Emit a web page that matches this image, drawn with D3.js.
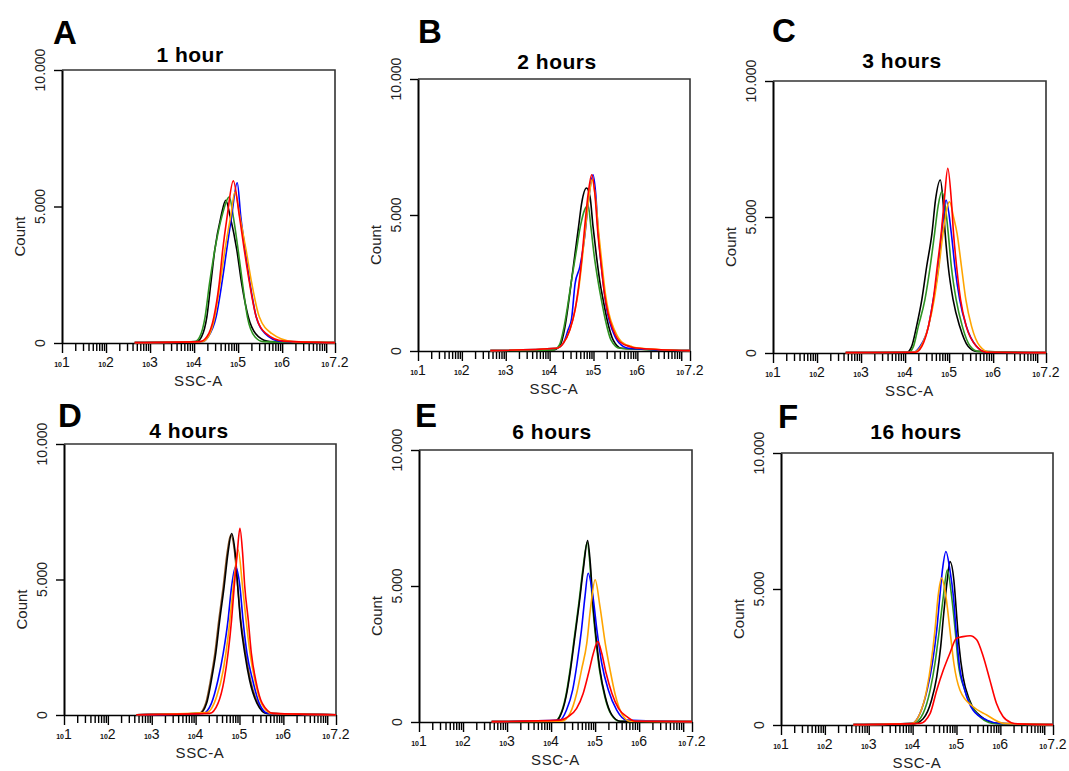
<!DOCTYPE html>
<html>
<head>
<meta charset="utf-8">
<script src="https://cdn.jsdelivr.net/npm/d3@7"></script>
<style>
  body { margin: 0; background: #fff; }
  svg { display: block; font-family: "Liberation Sans", Arial, sans-serif; }
</style>
</head>
<body>
<svg id="chart" width="1069" height="771"></svg>
<script>
// ---- data: [log10(SSC-A), count] ----
var h1_black  = [[4.06,50],[4.17,230],[4.29,960],[4.38,2180],[4.47,3410],[4.61,4630],[4.72,5230],[4.82,4630],[4.97,3410],[5.08,2180],[5.23,960],[5.46,230],[5.72,50]];
var h1_green  = [[4.02,50],[4.13,230],[4.25,960],[4.35,2180],[4.47,3410],[4.63,4630],[4.80,5350],[4.89,4630],[5.00,3410],[5.10,2180],[5.21,960],[5.38,230],[5.57,50]];
var h1_blue   = [[4.17,50],[4.32,230],[4.50,960],[4.63,2180],[4.74,3410],[4.85,4630],[4.98,5870],[5.06,4630],[5.16,3410],[5.27,2180],[5.41,960],[5.61,350],[5.95,70]];
var h1_orange = [[4.17,50],[4.32,230],[4.47,960],[4.59,2180],[4.70,3410],[4.83,4630],[4.93,5540],[5.04,4630],[5.18,3410],[5.31,2180],[5.48,960],[5.76,350],[6.25,50]];
var h1_red    = [[4.13,50],[4.29,230],[4.45,960],[4.57,2180],[4.65,3410],[4.75,4630],[4.89,5940],[5.03,4630],[5.14,3410],[5.26,2180],[5.41,960],[5.63,350],[6.03,70]];

var h2_black  = [[4.08,40],[4.24,215],[4.35,890],[4.43,1750],[4.50,2610],[4.58,3590],[4.66,4570],[4.73,5430],[4.84,5990],[4.92,5680],[4.99,4570],[5.07,3460],[5.14,2610],[5.22,1880],[5.31,1150],[5.45,400],[5.64,100]];
var h2_green  = [[4.08,40],[4.22,215],[4.33,890],[4.42,1750],[4.50,2610],[4.60,3590],[4.70,4570],[4.80,5200],[4.88,5350],[4.94,4570],[5.02,3460],[5.10,2610],[5.18,1880],[5.27,1150],[5.40,400],[5.60,100]];
var h2_blue   = [[4.16,100],[4.31,280],[4.42,770],[4.50,1180],[4.58,2470],[4.69,3100],[4.80,4210],[4.88,5430],[4.99,6480],[5.05,5800],[5.11,4330],[5.18,3100],[5.25,2120],[5.32,1390],[5.43,770],[5.58,300],[5.80,100]];
var h2_orange = [[4.16,100],[4.31,280],[4.46,770],[4.58,1510],[4.67,2360],[4.74,3340],[4.82,4570],[4.90,5700],[4.97,6300],[5.04,5700],[5.12,4330],[5.20,3100],[5.27,2120],[5.35,1390],[5.48,770],[5.64,340],[5.88,160],[6.10,100]];
var h2_red    = [[4.16,100],[4.31,280],[4.46,770],[4.58,1510],[4.66,2360],[4.73,3340],[4.80,4570],[4.88,5800],[4.96,6480],[5.03,5800],[5.10,4330],[5.18,3100],[5.25,2120],[5.33,1390],[5.45,770],[5.60,340],[5.83,160],[6.05,100]];

var h3_black  = [[4.04,25],[4.15,245],[4.26,980],[4.38,1960],[4.49,3180],[4.61,4400],[4.69,5620],[4.80,6360],[4.86,5620],[4.91,4400],[4.98,3180],[5.09,1960],[5.24,980],[5.43,245],[5.62,60]];
var h3_green  = [[4.08,25],[4.19,245],[4.30,980],[4.45,1960],[4.57,3180],[4.67,4400],[4.75,5400],[4.83,5930],[4.92,5300],[4.98,4400],[5.05,3180],[5.16,1960],[5.30,980],[5.48,245],[5.66,60]];
var h3_blue   = [[4.19,30],[4.34,245],[4.53,980],[4.64,1960],[4.76,3180],[4.83,4400],[4.93,5620],[5.05,4400],[5.13,3180],[5.24,1960],[5.39,980],[5.62,245],[5.85,30]];
var h3_orange = [[4.20,30],[4.36,245],[4.53,980],[4.66,1960],[4.77,3180],[4.86,4400],[5.01,5560],[5.10,5000],[5.18,4400],[5.28,3180],[5.38,1960],[5.51,980],[5.70,245],[5.92,25]];
var h3_red    = [[4.23,25],[4.38,245],[4.53,980],[4.64,1960],[4.73,3180],[4.82,4400],[4.89,5620],[4.97,6790],[5.05,5620],[5.10,4400],[5.17,3180],[5.26,1960],[5.39,980],[5.62,245],[5.85,25]];

var h4_black  = [[4.10,60],[4.25,430],[4.36,1290],[4.46,2280],[4.55,3510],[4.65,4740],[4.74,6000],[4.82,6700],[4.90,6000],[4.96,4740],[5.02,3510],[5.12,2280],[5.23,1290],[5.40,430],[5.62,60]];
var h4_brown  = [[4.08,60],[4.23,430],[4.34,1290],[4.44,2280],[4.53,3510],[4.63,4740],[4.72,6000],[4.80,6640],[4.89,6000],[4.96,4740],[5.03,3510],[5.14,2280],[5.25,1290],[5.42,430],[5.64,60]];
var h4_blue   = [[4.17,60],[4.36,430],[4.51,1290],[4.63,2280],[4.74,3510],[4.82,4740],[4.91,5470],[5.01,4740],[5.08,3510],[5.17,2280],[5.30,1290],[5.45,430],[5.65,60]];
var h4_orange = [[4.25,90],[4.48,680],[4.63,1660],[4.74,2890],[4.82,4120],[4.90,5350],[4.97,6090],[5.07,4740],[5.15,3510],[5.24,2280],[5.35,1290],[5.50,430],[5.73,60]];
var h4_red    = [[4.32,60],[4.51,430],[4.65,1290],[4.74,2280],[4.82,3510],[4.88,4740],[4.95,6000],[5.01,6890],[5.07,6000],[5.12,4740],[5.20,3510],[5.27,2280],[5.37,1290],[5.52,430],[5.77,60]];

var h6_black  = [[4.09,30],[4.20,200],[4.34,930],[4.44,1910],[4.54,3140],[4.64,4370],[4.73,5590],[4.83,6670],[4.89,5840],[4.95,4370],[5.02,3140],[5.11,1910],[5.23,930],[5.38,260],[5.57,30]];
var h6_green  = [[4.08,30],[4.19,200],[4.33,930],[4.43,1910],[4.53,3140],[4.63,4370],[4.72,5590],[4.82,6600],[4.88,5840],[4.94,4370],[5.01,3140],[5.10,1910],[5.22,930],[5.37,260],[5.55,30]];
var h6_blue   = [[4.20,70],[4.35,440],[4.49,1180],[4.59,2160],[4.69,3390],[4.77,4620],[4.84,5470],[4.95,4620],[5.04,3390],[5.15,2160],[5.30,1180],[5.49,440],[5.72,70]];
var h6_orange = [[4.24,30],[4.43,320],[4.58,1050],[4.69,1910],[4.81,2890],[4.90,4240],[5.00,5230],[5.11,4240],[5.23,2890],[5.34,1910],[5.45,1050],[5.60,320],[5.79,30]];
var h6_red    = [[4.20,70],[4.39,200],[4.58,500],[4.73,1060],[4.85,1790],[4.96,2530],[5.06,2960],[5.15,2530],[5.25,1790],[5.38,1060],[5.53,500],[5.72,200],[5.91,30]];

var h16_black  = [[4.02,40],[4.24,230],[4.43,910],[4.55,1770],[4.64,2880],[4.71,4110],[4.79,5330],[4.85,6010],[4.94,5330],[5.00,4110],[5.06,2880],[5.15,1770],[5.30,910],[5.57,300],[5.91,60]];
var h16_green  = [[4.02,60],[4.24,430],[4.40,1280],[4.51,2270],[4.61,3500],[4.70,4720],[4.79,5700],[4.89,4720],[4.97,3500],[5.04,2270],[5.19,1280],[5.46,430],[5.83,60]];
var h16_blue   = [[3.98,60],[4.17,430],[4.33,1280],[4.45,2270],[4.55,3500],[4.62,4720],[4.68,5700],[4.76,6380],[4.85,5700],[4.93,4720],[4.99,3500],[5.06,2270],[5.19,1280],[5.38,540],[5.69,180],[5.99,60]];
var h16_orange = [[3.98,60],[4.17,430],[4.32,1280],[4.42,2270],[4.51,3500],[4.58,4720],[4.66,5400],[4.76,4720],[4.85,3500],[4.94,2270],[5.08,1280],[5.38,670],[5.69,370],[6.07,60]];
var h16_red    = [[4.17,60],[4.40,430],[4.55,1280],[4.70,2020],[4.85,2640],[5.00,3190],[5.15,3250],[5.31,3280],[5.46,3130],[5.61,2520],[5.76,1660],[5.91,800],[6.06,310],[6.25,85],[6.40,40]];

var panelLetters = ["A", "B", "C", "D", "E", "F"];
var panelTitles  = ["1 hour", "2 hours", "3 hours", "4 hours", "6 hours", "16 hours"];
var yTicks       = [0, 5000, 10000];
var xLabels      = [1, 2, 3, 4, 5, 6, 7.2];   // 10^7 itself carries no label
var X_MIN = 1, X_MAX = 7.2, Y_MAX = 10000;
var BASE_FROM = 2.65, BASE_COUNT = 12;   // faint event floor running along the axis

// ---- layout / style ----
var frames = [[62,70,335,343],[418,79,690,351],[773,81,1046,353],[64,444,336,715],[419,450,692,722],[781,453,1053,725]];
var letterPos = [[53,44],[418,43],[772,42],[58,427],[415,427],[778,428]];
var titlePos  = [[190,62],[557,69],[902,68],[189,438],[552,439],[916,439]];
var colors    = ["#000000", "#2e9322", "#0000ff", "#ffa500", "#ff0000"];
var brown     = "#8b5a2b";

var panels = [
  {series: [h1_black, h1_green, h1_blue, h1_orange, h1_red], colors: colors},
  {series: [h2_black, h2_green, h2_blue, h2_orange, h2_red], colors: colors},
  {series: [h3_black, h3_green, h3_blue, h3_orange, h3_red], colors: colors},
  {series: [h4_brown, h4_black, h4_blue, h4_orange, h4_red], colors: [brown, colors[0], colors[2], colors[3], colors[4]]},
  {series: [h6_green, h6_black, h6_blue, h6_orange, h6_red], colors: [colors[1], colors[0], colors[2], colors[3], colors[4]]},
  {series: [h16_black, h16_green, h16_blue, h16_orange, h16_red], colors: colors}
];

var svg = d3.select("#chart");
var dotFmt = function(v){ return d3.format(",")(v).replace(/,/g, "."); };

panels.forEach(function(p, i){
  var f = frames[i], x0 = f[0], y0 = f[1], x1 = f[2], y1 = f[3];
  var x = d3.scaleLog().domain([Math.pow(10, X_MIN), Math.pow(10, X_MAX)]).range([x0, x1]);
  var y = d3.scaleLinear().domain([0, Y_MAX]).range([y1, y0]);
  var g = svg.append("g");

  // panel letter + title
  g.append("text").attr("x", letterPos[i][0]).attr("y", letterPos[i][1])
    .attr("font-size", 33).attr("font-weight", "bold").text(panelLetters[i]);
  g.append("text").attr("x", titlePos[i][0]).attr("y", titlePos[i][1])
    .attr("text-anchor", "middle").attr("font-size", 21).attr("font-weight", "bold")
    .attr("letter-spacing", 0.5).text(panelTitles[i]);

  // frame top / right
  g.append("path").attr("d", "M" + x0 + "," + y0 + "H" + x1 + "V" + y1)
    .attr("fill", "none").attr("stroke", "#333").attr("stroke-width", 1.6);

  // x axis: log ticks, decades longer
  var xVals = x.ticks().concat([Math.pow(10, X_MAX)]);
  var xAxis = d3.axisBottom(x).tickValues(xVals).tickSize(9).tickSizeOuter(0).tickFormat("");
  var gx = g.append("g").attr("transform", "translate(0," + y1 + ")").call(xAxis);
  gx.select(".domain").attr("stroke", "#000").attr("stroke-width", 1.6);
  gx.selectAll(".tick line").attr("stroke", "#000").attr("stroke-width", 1.4)
    .attr("y2", function(d){
      var l = Math.log10(d);
      return (Math.abs(l - Math.round(l)) < 1e-9 || Math.abs(l - X_MAX) < 1e-9) ? 10 : 8;
    });

  xLabels.forEach(function(k){
    var t = g.append("text").attr("x", x(Math.pow(10, k))).attr("y", y1 + 24)
      .attr("text-anchor", "middle").attr("fill", "#111");
    t.append("tspan").attr("font-size", 7).attr("font-weight", "bold").text("10");
    t.append("tspan").attr("font-size", 14).text(String(k));
  });

  g.append("text").attr("x", (x0 + x1) / 2).attr("y", y1 + 43)
    .attr("text-anchor", "middle").attr("font-size", 15).attr("letter-spacing", 0.6)
    .attr("fill", "#222").text("SSC-A");

  // y axis
  var yAxis = d3.axisLeft(y).tickValues(yTicks).tickSize(8).tickSizeOuter(0).tickFormat("");
  var gy = g.append("g").attr("transform", "translate(" + x0 + ",0)").call(yAxis);
  gy.select(".domain").attr("stroke", "#000").attr("stroke-width", 2);
  gy.selectAll(".tick line").attr("stroke", "#000").attr("stroke-width", 1.4);

  yTicks.forEach(function(v){
    var tx = x0 - 17, ty = y(v);
    g.append("text").attr("x", tx).attr("y", ty)
      .attr("transform", "rotate(-90," + tx + "," + ty + ")")
      .attr("text-anchor", "middle").attr("font-size", 14).attr("fill", "#222")
      .text(dotFmt(v));
  });

  var cx = x0 - 37, cy = (y0 + y1) / 2 + 30;
  g.append("text").attr("x", cx).attr("y", cy)
    .attr("transform", "rotate(-90," + cx + "," + cy + ")")
    .attr("text-anchor", "middle").attr("font-size", 15).attr("fill", "#222").text("Count");

  // histogram traces
  var line = d3.line()
    .x(function(d){ return x(Math.pow(10, d[0])); })
    .y(function(d){ return y(d[1]); })
    .curve(d3.curveMonotoneX);

  p.series.forEach(function(s, j){
    var pts = [[BASE_FROM, BASE_COUNT]].concat(s, [[X_MAX, BASE_COUNT]]);
    g.append("path").attr("d", line(pts))
      .attr("fill", "none").attr("stroke", p.colors[j]).attr("stroke-width", 1.6);
  });
});
</script>
</body>
</html>
